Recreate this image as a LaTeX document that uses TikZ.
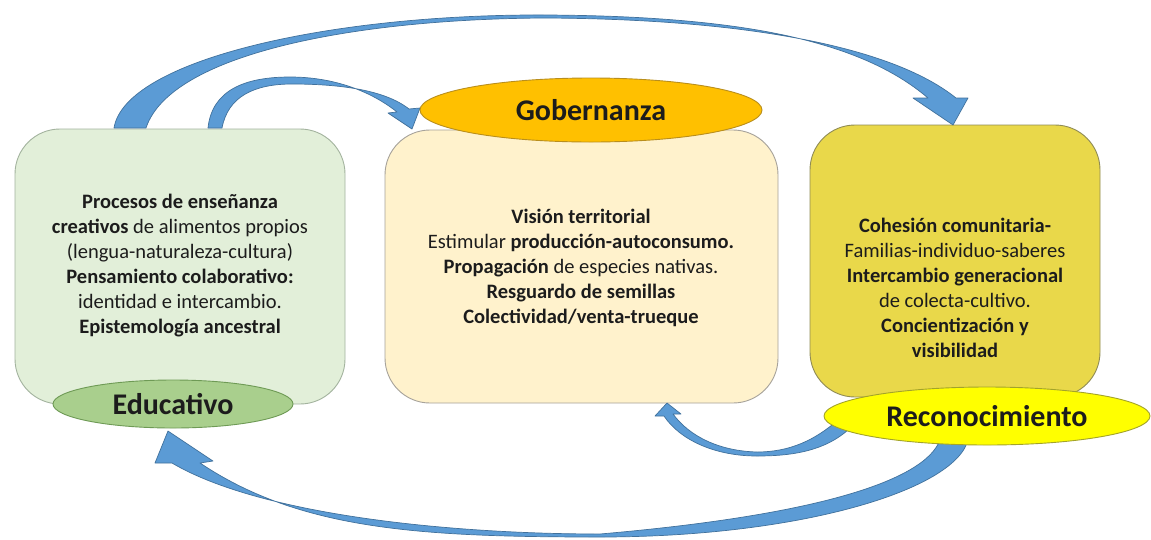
\documentclass[tikz,border=0pt]{standalone}
\usepackage{fontspec}
\setmainfont{Carlito}
\usetikzlibrary{shapes.geometric}

\definecolor{edubox}{HTML}{E2EFD9}
\definecolor{eduline}{HTML}{A3B39E}
\definecolor{edufill}{HTML}{A9CF8D}
\definecolor{edudraw}{HTML}{6E9A55}
\definecolor{govbox}{HTML}{FFF2CC}
\definecolor{govline}{HTML}{A6A29A}
\definecolor{govfill}{HTML}{FFC000}
\definecolor{govdraw}{HTML}{B98E1C}
\definecolor{recbox}{HTML}{E9D84A}
\definecolor{recline}{HTML}{8F8B55}
\definecolor{recfill}{HTML}{FFFF00}
\definecolor{recdraw}{HTML}{A3A32A}
\definecolor{arrowfill}{HTML}{5B9BD5}
\definecolor{arrowdraw}{HTML}{41719C}
\definecolor{ink}{HTML}{1C1C1C}

\tikzset{
  panel/.style={rectangle, rounded corners=45pt, line width=0.9pt, inner sep=0pt},
  tag/.style={ellipse, inner sep=0pt, line width=0.9pt, text=ink,
    font=\fontsize{30}{36}\selectfont\bfseries},
  body/.style={align=center, text=ink, inner sep=0pt,
    font=\fontsize{20.5}{25}\selectfont},
  curvedarrow/.style={fill=arrowfill, draw=arrowdraw, line width=0.7pt, line join=round}
}

\begin{document}
\begin{tikzpicture}[x=1pt,y=-1pt]
\useasboundingbox (0,0) rectangle (1151,539);
\fill[white] (0,0) rectangle (1151,539);

% the three panels
\node[panel, fill=edubox, draw=eduline, minimum width=330pt, minimum height=275pt] (edu) at (180,266.5) {};
\node[panel, fill=govbox, draw=govline, minimum width=393pt, minimum height=273pt] (gov) at (581.5,266.5) {};
\node[panel, fill=recbox, draw=recline, minimum width=290pt, minimum height=272pt] (rec) at (955,261) {};

% curved block arrows
% Educativo -> Reconocimiento (large, over the top)
\draw[curvedarrow] (114,128) .. controls (125,60) and (330,14) .. (545,15)
  .. controls (740,16) and (860,40) .. (928,98)
  -- (913,98) -- (953,125) -- (968,98) -- (956,98)
  .. controls (890,45) and (740,19) .. (545,18)
  .. controls (350,19) and (170,55) .. (146,128) -- cycle;
% Educativo -> Gobernanza (small, over the top)
\draw[curvedarrow] (208,128) .. controls (212,90) and (245,77) .. (290,77)
  .. controls (335,77) and (372,92) .. (397,112)
  -- (388,113) -- (412,129) -- (420,108) -- (409,109)
  .. controls (385,90) and (340,84) .. (292,84)
  .. controls (255,84) and (228,96) .. (222,128) -- cycle;
% Reconocimiento -> Gobernanza (small, underneath)
\draw[curvedarrow] (848,430) .. controls (825,450) and (795,456) .. (757,456)
  .. controls (715,456) and (680,440) .. (664,416)
  -- (655,416) -- (667,403) -- (681,414) -- (673,414)
  .. controls (690,437) and (720,451) .. (757,452)
  .. controls (790,452) and (815,440) .. (838,420) -- cycle;
% Reconocimiento -> Educativo (large, underneath)
\draw[curvedarrow] (968,440) .. controls (955,490) and (800,537) .. (600,537)
  .. controls (420,537) and (300,530) .. (200,463)
  -- (213,461) -- (168,431) -- (155,463) -- (172,463)
  .. controls (260,515) and (450,534) .. (600,534)
  .. controls (820,515) and (925,480) .. (940,440) -- cycle;

% labels on the panels
\node[tag, fill=edufill, draw=edudraw, minimum width=240pt, minimum height=48pt] (edutag) at (173,404) {Educativo};
\node[tag, fill=govfill, draw=govdraw, minimum width=342pt, minimum height=64pt] (govtag) at (591,110) {Gobernanza};
\node[tag, fill=recfill, draw=recdraw, minimum width=326pt, minimum height=58pt] (rectag) at (987,416) {Reconocimiento};

% panel texts
\node[body] (edutext) at (180,266) {\textbf{Procesos de enseñanza}\\
  \textbf{creativos} de alimentos propios\\
  (lengua-naturaleza-cultura)\\
  \textbf{Pensamiento colaborativo:}\\
  identidad e intercambio.\\
  \textbf{Epistemología ancestral}};
\node[body] (govtext) at (581,268) {\textbf{Visión territorial}\\
  Estimular \textbf{producción-autoconsumo.}\\
  \textbf{Propagación} de especies nativas.\\
  \textbf{Resguardo de semillas}\\
  \textbf{Colectividad/venta-trueque}};
\node[body] (rectext) at (955,288) {\textbf{Cohesión comunitaria-}\\
  Familias-individuo-saberes\\
  \textbf{Intercambio generacional}\\
  de colecta-cultivo.\\
  \textbf{Concientización y}\\
  \textbf{visibilidad}};
\end{tikzpicture}
\end{document}
